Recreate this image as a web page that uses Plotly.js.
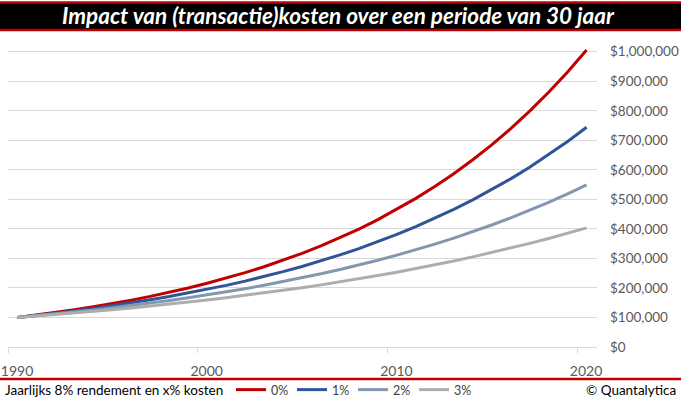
<!DOCTYPE html>
<html>
<head>
<meta charset="utf-8">
<script src="https://cdn.plot.ly/plotly-3.0.1.min.js"></script>
<style>html,body{margin:0;padding:0;background:#fff;}#chart{width:681px;height:399px;}</style>
</head>
<body>
<div id="chart"></div>
<script>
// Years (x) and portfolio values per cost scenario
const years = [1990,1991,1992,1993,1994,1995,1996,1997,1998,1999,2000,2001,2002,2003,2004,2005,2006,2007,2008,2009,2010,2011,2012,2013,2014,2015,2016,2017,2018,2019,2020];
const cost0 = [100000,108000,116640,125971,136049,146933,158687,171382,185093,199900,215892,233164,251817,271962,293719,317217,342594,370002,399602,431570,466096,503383,543654,587146,634118,684848,739635,798806,862711,931727,1006266];
const cost1 = [100000,106920,114319,122230,130688,139732,149401,159740,170794,182613,195250,208761,223208,238654,255169,272827,291707,311893,333476,356552,381226,407606,435813,465971,498216,532693,569555,608969,651110,696167,744342];
const cost2 = [100000,105840,112021,118563,125487,132816,140572,148782,157470,166667,176401,186702,197607,209147,221361,234289,247971,262453,277781,294004,311173,329346,348580,368938,390484,413288,437424,462970,490007,518624,548911];
const cost3 = [100000,104760,109747,114971,120444,126177,132183,138475,145066,151972,159205,166784,174723,183040,191753,200880,210442,220459,230953,241946,253463,265528,278167,291408,305279,319810,335033,350981,367688,385190,403525];
const seriesNames = ['0%','1%','2%','3%'];
const seriesColors = ['#C00000','#2F5597','#8497B0','#ADADAD'];
const xTickVals = [1989.5,1999.5,2009.5,2019.5];
const xTickText = ['1990','2000','2010','2020'];
const yTickVals = [0,100000,200000,300000,400000,500000,600000,700000,800000,900000,1000000];
const titleText = 'Impact van (transactie)kosten over een periode van 30 jaar';
const footerText = 'Jaarlijks 8% rendement en x% kosten';
const creditText = '\u00A9 Quantalytica';

const W = 681, H = 399;
const M = {l: 8, r: 84, t: 37, b: 52, autoexpand: false};
const PW = W - M.l - M.r, PH = H - M.t - M.b;
const px = v => (v - M.l) / PW;
const py = v => (H - M.b - v) / PH;

const allSeries = [cost0, cost1, cost2, cost3];
const traces = allSeries.map((vals, i) => ({
  type: 'scatter', mode: 'lines', x: years, y: vals, name: seriesNames[i],
  line: {color: seriesColors[i], width: 3}, hoverinfo: 'skip'
}));

const FONT = 'Lato, "Liberation Sans", sans-serif';

const layout = {
  width: W, height: H,
  margin: M,
  paper_bgcolor: '#fff', plot_bgcolor: '#fff',
  showlegend: true,
  legend: {orientation: 'h', x: px(231), xanchor: 'left', y: py(390), yanchor: 'middle',
    font: {family: FONT, size: 12.5, color: '#404040'}, bgcolor: 'rgba(0,0,0,0)', itemwidth: 30,
    entrywidth: 16, entrywidthmode: 'pixels'},
  title: {text: '<b><i>' + titleText + '</i></b>', font: {family: FONT, size: 22.5, color: '#fff'},
    xref: 'paper', x: px(338), xanchor: 'center', yref: 'container', y: 1 - 16/H, yanchor: 'middle', pad: {t:0,b:0,l:0,r:0}},
  xaxis: {range: [1989.5, 2020.55], tickvals: xTickVals, ticktext: xTickText, ticks: 'outside', ticklen: 5,
    tickcolor: '#D9D9D9', showgrid: false, showline: true, linecolor: '#D9D9D9', linewidth: 1, zeroline: false,
    ticklabelshift: 9, ticklabelstandoff: 6, tickfont: {family: FONT, size: 14, color: '#595959'}, automargin: false, fixedrange: true},
  yaxis: {side: 'right', range: [0, 1050000], tickvals: yTickVals, tickformat: '$,.0f', showgrid: true,
    gridcolor: '#D9D9D9', gridwidth: 1, zeroline: false, showline: false, ticks: '', ticklabelstandoff: 12,
    tickfont: {family: FONT, size: 13.5, color: '#595959'}, automargin: false, fixedrange: true},
  shapes: [
    {type: 'rect', xref: 'paper', yref: 'paper', x0: px(0), x1: px(681), y0: py(30), y1: py(2.5),
      fillcolor: '#000', line: {width: 0}, layer: 'below'},
    {type: 'line', xref: 'paper', yref: 'paper', x0: px(0), x1: px(681), y0: py(2.5), y1: py(2.5),
      line: {color: '#C00000', width: 2.5}},
    {type: 'line', xref: 'paper', yref: 'paper', x0: px(0), x1: px(681), y0: py(30), y1: py(30),
      line: {color: '#C00000', width: 2.5}},
    {type: 'line', xref: 'paper', yref: 'paper', x0: px(0), x1: px(681), y0: py(379), y1: py(379),
      line: {color: '#C00000', width: 2.5}}
  ],
  annotations: [
    {text: footerText, xref: 'paper', yref: 'paper', x: px(3), y: py(390), xanchor: 'left', yanchor: 'middle',
      showarrow: false, font: {family: FONT, size: 13.5, color: '#000'}},
    {text: creditText, xref: 'paper', yref: 'paper', x: px(678), y: py(390), xanchor: 'right', yanchor: 'middle',
      showarrow: false, font: {family: FONT, size: 13.5, color: '#000'}}
  ]
};

Plotly.newPlot('chart', traces, layout, {displayModeBar: false, staticPlot: true});
</script>
</body>
</html>
